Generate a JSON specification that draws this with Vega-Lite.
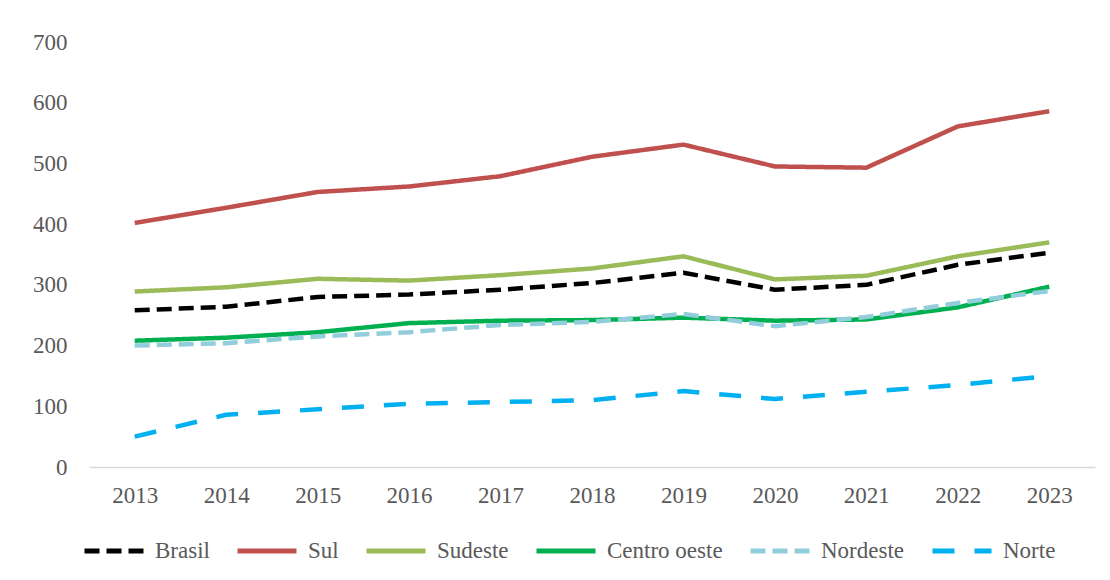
{
  "$schema": "https://vega.github.io/schema/vega-lite/v6.json",
  "width": 1006,
  "height": 425,
  "autosize": "none",
  "padding": {"left": 89, "top": 42, "right": 15, "bottom": 113},
  "background": "white",
  "config": {
    "view": {"stroke": null},
    "font": "Liberation Serif"
  },
  "data": {
    "values": [
      {"ano": "2013", "regiao": "Brasil", "valor": 258},
      {"ano": "2014", "regiao": "Brasil", "valor": 264},
      {"ano": "2015", "regiao": "Brasil", "valor": 280},
      {"ano": "2016", "regiao": "Brasil", "valor": 284},
      {"ano": "2017", "regiao": "Brasil", "valor": 292},
      {"ano": "2018", "regiao": "Brasil", "valor": 303},
      {"ano": "2019", "regiao": "Brasil", "valor": 320},
      {"ano": "2020", "regiao": "Brasil", "valor": 292},
      {"ano": "2021", "regiao": "Brasil", "valor": 300},
      {"ano": "2022", "regiao": "Brasil", "valor": 333},
      {"ano": "2023", "regiao": "Brasil", "valor": 353},
      {"ano": "2013", "regiao": "Sul", "valor": 402},
      {"ano": "2014", "regiao": "Sul", "valor": 427},
      {"ano": "2015", "regiao": "Sul", "valor": 453},
      {"ano": "2016", "regiao": "Sul", "valor": 462},
      {"ano": "2017", "regiao": "Sul", "valor": 479},
      {"ano": "2018", "regiao": "Sul", "valor": 511},
      {"ano": "2019", "regiao": "Sul", "valor": 531},
      {"ano": "2020", "regiao": "Sul", "valor": 495},
      {"ano": "2021", "regiao": "Sul", "valor": 493},
      {"ano": "2022", "regiao": "Sul", "valor": 561},
      {"ano": "2023", "regiao": "Sul", "valor": 586},
      {"ano": "2013", "regiao": "Sudeste", "valor": 289},
      {"ano": "2014", "regiao": "Sudeste", "valor": 296},
      {"ano": "2015", "regiao": "Sudeste", "valor": 310},
      {"ano": "2016", "regiao": "Sudeste", "valor": 307},
      {"ano": "2017", "regiao": "Sudeste", "valor": 316},
      {"ano": "2018", "regiao": "Sudeste", "valor": 327},
      {"ano": "2019", "regiao": "Sudeste", "valor": 347},
      {"ano": "2020", "regiao": "Sudeste", "valor": 309},
      {"ano": "2021", "regiao": "Sudeste", "valor": 315},
      {"ano": "2022", "regiao": "Sudeste", "valor": 347},
      {"ano": "2023", "regiao": "Sudeste", "valor": 370},
      {"ano": "2013", "regiao": "Centro oeste", "valor": 208},
      {"ano": "2014", "regiao": "Centro oeste", "valor": 213},
      {"ano": "2015", "regiao": "Centro oeste", "valor": 222},
      {"ano": "2016", "regiao": "Centro oeste", "valor": 237},
      {"ano": "2017", "regiao": "Centro oeste", "valor": 241},
      {"ano": "2018", "regiao": "Centro oeste", "valor": 242},
      {"ano": "2019", "regiao": "Centro oeste", "valor": 246},
      {"ano": "2020", "regiao": "Centro oeste", "valor": 241},
      {"ano": "2021", "regiao": "Centro oeste", "valor": 243},
      {"ano": "2022", "regiao": "Centro oeste", "valor": 263},
      {"ano": "2023", "regiao": "Centro oeste", "valor": 297},
      {"ano": "2013", "regiao": "Nordeste", "valor": 200},
      {"ano": "2014", "regiao": "Nordeste", "valor": 204},
      {"ano": "2015", "regiao": "Nordeste", "valor": 215},
      {"ano": "2016", "regiao": "Nordeste", "valor": 222},
      {"ano": "2017", "regiao": "Nordeste", "valor": 234},
      {"ano": "2018", "regiao": "Nordeste", "valor": 239},
      {"ano": "2019", "regiao": "Nordeste", "valor": 252},
      {"ano": "2020", "regiao": "Nordeste", "valor": 232},
      {"ano": "2021", "regiao": "Nordeste", "valor": 247},
      {"ano": "2022", "regiao": "Nordeste", "valor": 270},
      {"ano": "2023", "regiao": "Nordeste", "valor": 290},
      {"ano": "2013", "regiao": "Norte", "valor": 50},
      {"ano": "2014", "regiao": "Norte", "valor": 86},
      {"ano": "2015", "regiao": "Norte", "valor": 95},
      {"ano": "2016", "regiao": "Norte", "valor": 104},
      {"ano": "2017", "regiao": "Norte", "valor": 107},
      {"ano": "2018", "regiao": "Norte", "valor": 110},
      {"ano": "2019", "regiao": "Norte", "valor": 125},
      {"ano": "2020", "regiao": "Norte", "valor": 112},
      {"ano": "2021", "regiao": "Norte", "valor": 124},
      {"ano": "2022", "regiao": "Norte", "valor": 135},
      {"ano": "2023", "regiao": "Norte", "valor": 150}
    ]
  },
  "mark": {"type": "line", "strokeWidth": 4.5, "strokeCap": "butt", "strokeJoin": "round"},
  "encoding": {
    "x": {
      "field": "ano",
      "type": "ordinal",
      "scale": {"type": "point", "padding": 0.5},
      "axis": {
        "title": null,
        "labelAngle": 0,
        "labelFontSize": 23,
        "labelColor": "#595959",
        "labelPadding": 17,
        "ticks": false,
        "domainColor": "#d9d9d9",
        "domainWidth": 1.5,
        "grid": false
      }
    },
    "y": {
      "field": "valor",
      "type": "quantitative",
      "scale": {"domain": [0, 700], "nice": false},
      "axis": {
        "title": null,
        "values": [0, 100, 200, 300, 400, 500, 600, 700],
        "labelFontSize": 23,
        "labelColor": "#595959",
        "labelPadding": 22,
        "ticks": false,
        "domain": false,
        "grid": false
      }
    },
    "color": {
      "field": "regiao",
      "type": "nominal",
      "scale": {
        "domain": ["Brasil", "Sul", "Sudeste", "Centro oeste", "Nordeste", "Norte"],
        "range": ["#000000", "#C0504D", "#9BBB59", "#00B050", "#92CDDC", "#00B0F0"]
      },
      "legend": {
        "title": null,
        "orient": "none",
        "direction": "horizontal",
        "legendX": -7,
        "legendY": 477,
        "symbolType": "stroke",
        "symbolSize": 3481,
        "symbolStrokeWidth": 5,
        "labelFontSize": 23,
        "labelColor": "#595959",
        "labelOffset": 9,
        "columnPadding": 17
      }
    },
    "strokeDash": {
      "field": "regiao",
      "type": "nominal",
      "scale": {
        "domain": ["Brasil", "Sul", "Sudeste", "Centro oeste", "Nordeste", "Norte"],
        "range": [[15, 7], [1, 0], [1, 0], [1, 0], [15, 7], [22, 20]]
      },
      "legend": {
        "title": null,
        "orient": "none",
        "direction": "horizontal",
        "legendX": -7,
        "legendY": 477,
        "symbolType": "stroke",
        "symbolSize": 3481,
        "symbolStrokeWidth": 5,
        "labelFontSize": 23,
        "labelColor": "#595959",
        "labelOffset": 9,
        "columnPadding": 17
      }
    }
  }
}
